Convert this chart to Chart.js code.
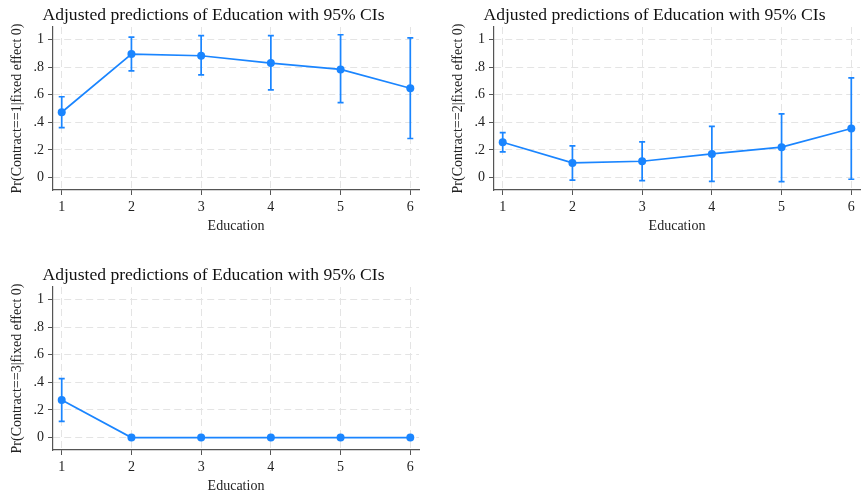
<!DOCTYPE html>
<html>
<head>
<meta charset="utf-8">
<script src="https://cdn.jsdelivr.net/npm/chart.js@4.4.1/dist/chart.umd.min.js"></script>
<style>
  html, body { margin: 0; padding: 0; background: #fff; overflow: hidden; width: 861px; height: 498px; }
  .box { position: absolute; width: 430px; height: 240px; }
</style>
</head>
<body>
<div class="box" style="left:0px;top:0px"><canvas id="c1" width="430" height="240"></canvas></div>
<div class="box" style="left:441px;top:0px"><canvas id="c2" width="430" height="240"></canvas></div>
<div class="box" style="left:0px;top:260px"><canvas id="c3" width="430" height="240"></canvas></div>
<script>
// education levels
const education = [1, 2, 3, 4, 5, 6];
const yTicks = [0, 0.2, 0.4, 0.6, 0.8, 1];

// Pr(Contract==1)
const pred1 = [0.473, 0.894, 0.882, 0.829, 0.783, 0.647];
const lo1 = [0.362, 0.773, 0.744, 0.635, 0.543, 0.283];
const hi1 = [0.585, 1.017, 1.027, 1.027, 1.034, 1.012];

// Pr(Contract==2)
const pred2 = [0.256, 0.106, 0.118, 0.171, 0.220, 0.355];
const lo2 = [0.186, -0.019, -0.022, -0.027, -0.029, -0.012];
const hi2 = [0.326, 0.229, 0.258, 0.370, 0.461, 0.722];

// Pr(Contract==3)
const pred3 = [0.272, 0, 0, 0, 0, 0];
const lo3 = [0.117, 0, 0, 0, 0, 0];
const hi3 = [0.427, 0, 0, 0, 0, 0];

const blue = "#1a85ff";
const serif = "'Liberation Serif', 'Times New Roman', serif";

// draws the CI bars with the chart's own scales
const errorBars = {
  id: "errorBars",
  afterDatasetsDraw(chart) {
    const ds = chart.data.datasets[0];
    const xs = chart.scales.x, ys = chart.scales.y;
    const ctx = chart.ctx;
    ctx.save();
    ctx.strokeStyle = blue;
    ctx.lineWidth = 1.7;
    ds.data.forEach((p) => {
      if (p.lo === p.hi) return;
      const x = xs.getPixelForValue(p.x);
      const y1 = ys.getPixelForValue(p.lo);
      const y2 = ys.getPixelForValue(p.hi);
      ctx.beginPath();
      ctx.moveTo(x, y1); ctx.lineTo(x, y2);
      ctx.moveTo(x - 3, y1); ctx.lineTo(x + 3, y1);
      ctx.moveTo(x - 3, y2); ctx.lineTo(x + 3, y2);
      ctx.stroke();
    });
    ctx.restore();
  }
};

const makeChart = (id, pred, lo, hi, yTitle) => {
  const ctx = document.getElementById(id).getContext("2d");
  const pts = education.map((e, i) => ({ x: e, y: pred[i], lo: lo[i], hi: hi[i] }));
  return new Chart(ctx, {
    type: "line",
    data: {
      datasets: [{
        data: pts,
        borderColor: blue,
        backgroundColor: blue,
        borderWidth: 1.7,
        pointRadius: 4,
        pointBorderWidth: 0,
        tension: 0,
      }],
    },
    options: {
      responsive: false,
      animation: false,
      layout: { padding: { top: 0, left: 8, right: 11, bottom: 0 } },
      plugins: {
        legend: { display: false },
        tooltip: { enabled: false },
        title: {
          display: true,
          text: "Adjusted predictions of Education with 95% CIs",
          color: "#111",
          font: { family: serif, size: 17.6, weight: "normal", lineHeight: 1.2 },
          padding: { top: 4.5, bottom: 1.4 },
        },
      },
      scales: {
        x: {
          type: "linear",
          min: 0.875,
          max: 6.125,
          afterBuildTicks: (s) => { s.ticks = education.map((v) => ({ value: v })); },
          afterFit: (s) => { s.height = 50; },
          ticks: {
            color: "#222",
            font: { family: serif, size: 14 },
            padding: 4,
            maxRotation: 0,
            callback: (v) => String(v),
          },
          grid: {
            color: "#e4e4e4",
            lineWidth: 1,
            tickColor: "#555",
            tickLength: 5,
            tickWidth: 1,
          },
          border: { color: "#555", width: 1.2, dash: [7, 4] },
          title: {
            display: true,
            text: "Education",
            color: "#222",
            font: { family: serif, size: 14, lineHeight: 1.2 },
            padding: { top: 0, bottom: 5.5 },
          },
        },
        y: {
          type: "linear",
          min: -0.09,
          max: 1.09,
          afterBuildTicks: (s) => { s.ticks = yTicks.map((v) => ({ value: v })); },
          afterFit: (s) => { s.width = 45; },
          ticks: {
            color: "#222",
            font: { family: serif, size: 14 },
            padding: 4,
            callback: (v) => (v === 0 ? "0" : v === 1 ? "1" : String(Math.round(v * 10) / 10).replace(/^0/, "")),
          },
          grid: {
            color: "#e4e4e4",
            lineWidth: 1,
            tickColor: "#555",
            tickLength: 5,
            tickWidth: 1,
          },
          border: { color: "#555", width: 1.2, dash: [7, 4] },
          title: {
            display: true,
            text: yTitle,
            color: "#222",
            font: { family: serif, size: 14, lineHeight: 1.2 },
            padding: { top: 0.5, bottom: 0 },
          },
        },
      },
    },
    plugins: [errorBars],
  });
};

makeChart("c1", pred1, lo1, hi1, "Pr(Contract==1|fixed effect 0)");
makeChart("c2", pred2, lo2, hi2, "Pr(Contract==2|fixed effect 0)");
makeChart("c3", pred3, lo3, hi3, "Pr(Contract==3|fixed effect 0)");
</script>
</body>
</html>
